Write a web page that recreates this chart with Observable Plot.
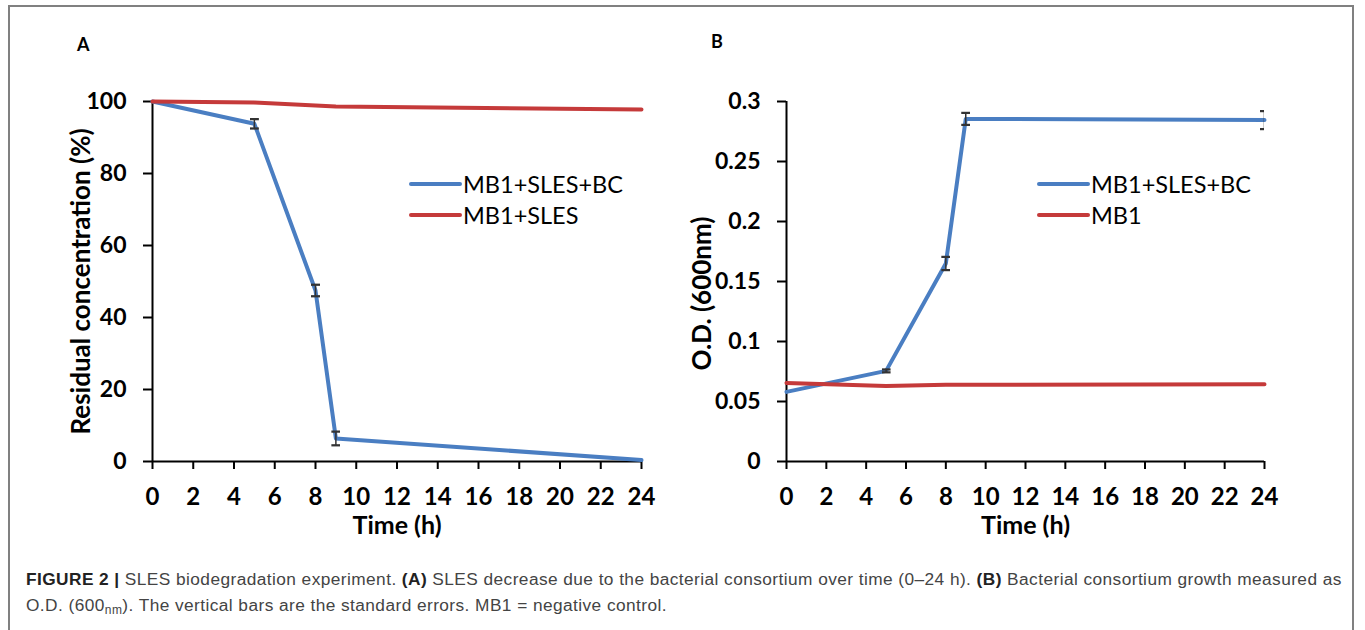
<!DOCTYPE html>
<html>
<head>
<meta charset="utf-8">
<script src="https://cdn.jsdelivr.net/npm/d3@7"></script>
<script src="https://cdn.jsdelivr.net/npm/@observablehq/plot@0.6"></script>
<style>
  html, body { margin: 0; padding: 0; background: #fff; }
  #fig { position: relative; width: 1365px; height: 630px; overflow: hidden; background: #fff; }
  #frame { position: absolute; left: 8px; top: 5px; width: 1346px; height: 640px; border: 2px solid #808080; box-sizing: border-box; }
  .panel { position: absolute; top: 0; }
  .plab { position: absolute; font-family: Lato, sans-serif; font-weight: bold; font-size: 18px; color: #000; }
  .legend { position: absolute; font-family: Lato, sans-serif; font-size: 23.5px; color: #000; }
  .legend .row { display: flex; align-items: center; height: 31px; }
  .legend .sw { display: inline-block; width: 53px; height: 4px; border-radius: 2px; margin-right: 1px; }
  #caption { position: absolute; left: 26px; top: 566px; width: 1325px; font-family: "Liberation Sans", Arial, sans-serif; font-size: 17.3px; letter-spacing: 0.43px; line-height: 26px; color: #444; white-space: nowrap; }
  #caption b { color: #222; }
</style>
</head>
<body>
<div id="fig">
  <div id="frame"></div>
  <div id="pa" class="panel" style="left:0px"></div>
  <div id="pb" class="panel" style="left:683px"></div>
  <div class="plab" style="left:77px; top:33px">A</div>
  <div class="plab" style="left:711px; top:30px">B</div>
  <div id="legA" class="legend" style="left:409px; top:168px"></div>
  <div id="legB" class="legend" style="left:1037px; top:168px"></div>
  <div id="caption"><span><b>FIGURE 2 |</b> SLES biodegradation experiment. <b>(A)</b> SLES decrease due to the bacterial consortium over time (0–24 h). <b>(B)</b> Bacterial consortium growth measured as</span><br><span>O.D. (600<sub style="font-size:12px;vertical-align:-3px">nm</sub>). The vertical bars are the standard errors. MB1 = negative control.</span></div>
</div>
<script>
// ---- data ----
const times = [0, 5, 8, 9, 24];
const xTicks = [0, 2, 4, 6, 8, 10, 12, 14, 16, 18, 20, 22, 24];

// Panel A: residual SLES concentration (%)
const residualBC = [100, 93.8, 47.5, 6.4, 0.4];
const residualBCse = [0, 1.3, 1.6, 1.9, 0];
const residualSLES = [100, 99.7, 98.9, 98.6, 97.8];
const yTicksA = [0, 20, 40, 60, 80, 100];

// Panel B: O.D. (600nm)
const odBC = [0.058, 0.0755, 0.165, 0.2855, 0.2845];
const odBCse = [0, 0.0012, 0.0055, 0.005, 0.0075];
const odMB1 = [0.0655, 0.063, 0.064, 0.064, 0.0643];
const yTicksB = [0, 0.05, 0.1, 0.15, 0.2, 0.25, 0.3];

const seriesA = ["MB1+SLES+BC", "MB1+SLES"];
const seriesB = ["MB1+SLES+BC", "MB1"];
const titleA = "Residual concentration (%)";
const titleB = "O.D. (600nm)";
const titleX = "Time (h)";

const BLUE = "#4a7ec2";
const RED = "#c53a3a";

function rows(vals, se, name) {
  return times.map((t, i) => ({t, v: vals[i], se: se ? se[i] : 0, name}));
}

function panel({bc, bcse, ctrl, names, yDomain, yTicks, yFormat, title, marginLeft, marginRight, width, titleDx, titleDy}) {
  const data = [...rows(bc, bcse, names[0]), ...rows(ctrl, null, names[1])];
  const err = data.filter(d => d.se > 0);
  return Plot.plot({
    width, height: 545,
    marginTop: 101, marginBottom: 84, marginLeft, marginRight,
    style: {fontFamily: "Lato, sans-serif", color: "#000", background: "transparent", overflow: "visible"},
    x: {domain: [0, 24]},
    y: {domain: yDomain},
    color: {domain: names, range: [BLUE, RED]},
    marks: [
      Plot.axisX({ticks: xTicks, tickFormat: d => String(d), tickSize: 8, tickPadding: 18, strokeWidth: 2,
        fontSize: 24, fontWeight: "bold", label: null}),
      Plot.axisY({ticks: yTicks, tickFormat: yFormat, tickSize: 9, tickPadding: 17, strokeWidth: 2,
        fontSize: 23, fontWeight: "bold", label: null}),
      Plot.ruleX([0], {stroke: "#000", strokeWidth: 2}),
      Plot.ruleY([yDomain[0]], {stroke: "#000", strokeWidth: 2}),
      Plot.line(data, {x: "t", y: "v", z: "name", stroke: "name", strokeWidth: 4, strokeLinejoin: "round"}),
      Plot.link(err, {x1: "t", x2: "t", y1: d => d.v - d.se, y2: d => d.v + d.se,
        stroke: "#333", strokeWidth: 1.5, markerStart: "tick", markerEnd: "tick", clip: true}),
      Plot.text([title], {frameAnchor: "left", rotate: -90, dx: titleDx, dy: titleDy, fontSize: 26, fontWeight: "bold", fill: "#000", lineAnchor: "middle", textAnchor: "middle"}),
      Plot.text([titleX], {frameAnchor: "bottom", dy: 64, fontSize: 25, fontWeight: "bold", fill: "#000", lineAnchor: "middle"})
    ]
  });
}

document.getElementById("pa").append(panel({
  bc: residualBC, bcse: residualBCse, ctrl: residualSLES, names: seriesA,
  yDomain: [0, 100], yTicks: yTicksA, yFormat: d => String(d), title: titleA,
  marginLeft: 152, marginRight: 42, width: 683, titleDx: -71, titleDy: 0
}));
document.getElementById("pb").append(panel({
  bc: odBC, bcse: odBCse, ctrl: odMB1, names: seriesB,
  yDomain: [0, 0.3], yTicks: yTicksB, yFormat: d3.format("~g"), title: titleB,
  marginLeft: 103, marginRight: 101, width: 682, titleDx: -84, titleDy: 12
}));

function legend(el, names) {
  const colors = [BLUE, RED];
  names.forEach((n, i) => {
    const r = document.createElement("div");
    r.className = "row";
    const sw = document.createElement("span");
    sw.className = "sw";
    sw.style.background = colors[i];
    r.append(sw, document.createTextNode(n));
    el.append(r);
  });
}
legend(document.getElementById("legA"), seriesA);
legend(document.getElementById("legB"), seriesB);
</script>
</body>
</html>
